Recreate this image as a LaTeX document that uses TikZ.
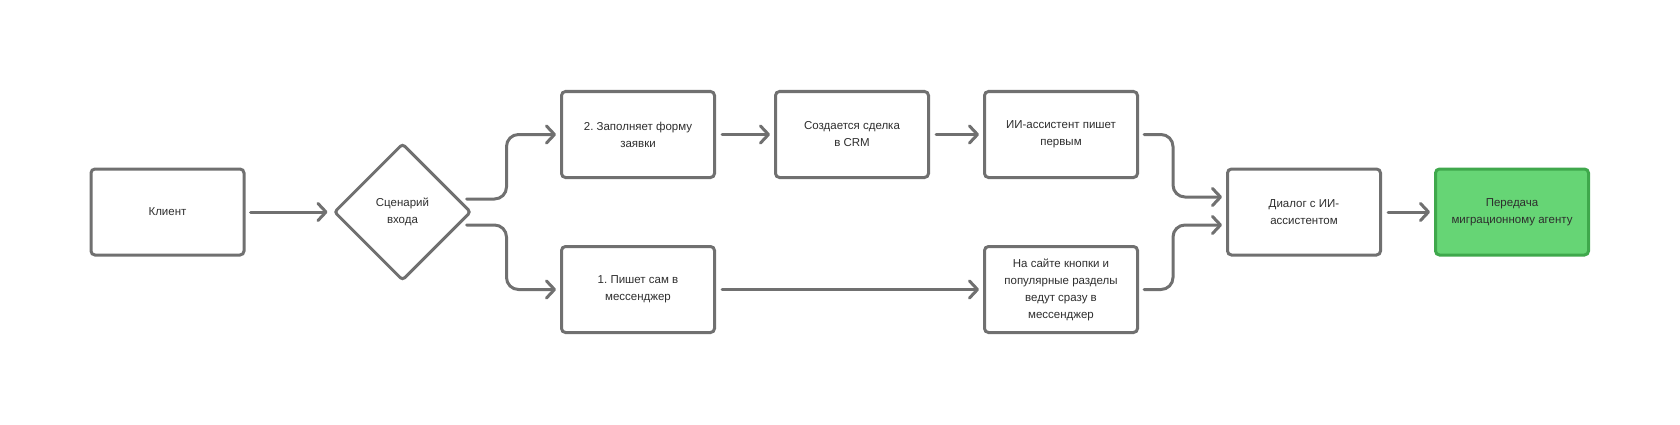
\documentclass[tikz,border=0pt]{standalone}
\usepackage{fontspec}
\setmainfont{Liberation Sans}
\usetikzlibrary{positioning,shapes.geometric,arrows.meta}
\frenchspacing

\definecolor{linegray}{HTML}{707070}
\definecolor{textgray}{HTML}{2E2E2E}
\definecolor{handfill}{HTML}{66D575}
\definecolor{handdraw}{HTML}{3FA84C}

\begin{document}
\begin{tikzpicture}[x=1pt,y=1pt,
  step box/.style={rectangle,draw=linegray,line width=3pt,rounded corners=4pt,fill=white,
    minimum width=153pt,minimum height=86pt,align=center,
    text=textgray,font=\fontsize{11.5}{17}\selectfont},
  choice node/.style={diamond,draw=linegray,line width=3pt,rounded corners=3pt,aspect=1,
    minimum width=137pt,minimum height=137pt,inner sep=0pt,align=center,
    text=textgray,font=\fontsize{11.5}{17}\selectfont},
  hand box/.style={step box,fill=handfill,draw=handdraw},
  flow/.style={draw=linegray,line width=3pt,line cap=round,
    -{Straight Barb[length=8pt,width=17pt,round]}},
  bend flow/.style={flow,rounded corners=12pt}]
\useasboundingbox (0,0) rectangle (1680,424);

\node[step box] (client) at (167.5,212) {Клиент};
\node[choice node] (scen) [right=87pt of client] {Сценарий\\входа};

% upper branch
\node[step box] (form) at (638,289.5) {2. Заполняет форму\\заявки};
\node[step box] (deal) [right=58pt of form] {Создается сделка\\в CRM};
\node[step box] (aifirst) [right=53pt of deal] {ИИ-ассистент пишет\\первым};

% lower branch
\node[step box] (self) [below=66pt of form] {1. Пишет сам в\\мессенджер};
\node[step box] (site) [below=66pt of aifirst] {На сайте кнопки и\\популярные разделы\\ведут сразу в\\мессенджер};

\node[step box] (dialog) at (1304,212) {Диалог с ИИ-\\ассистентом};
\node[hand box] (agent) [right=52pt of dialog] {Передача\\миграционному агенту};

\path[flow,shorten <=5pt,shorten >=5pt]
(client) edge (scen)
;
\draw[bend flow,shorten >=4pt] ([shift={(-6pt,13pt)}]scen.east) -- ++(40pt,0) |- (form.west);
\draw[bend flow,shorten >=4pt] ([shift={(-6pt,-13pt)}]scen.east) -- ++(40pt,0) |- (self.west);

\path[flow,shorten <=6pt,shorten >=4pt]
(form) edge (deal)
(deal) edge (aifirst)
(self) edge (site)
(dialog) edge (agent)
;
\draw[bend flow,shorten <=5pt,shorten >=4pt] (aifirst.east) -- ++(34pt,0) |- ([yshift=15pt]dialog.west);
\draw[bend flow,shorten <=5pt,shorten >=4pt] (site.east) -- ++(34pt,0) |- ([yshift=-13pt]dialog.west);
\end{tikzpicture}
\end{document}
